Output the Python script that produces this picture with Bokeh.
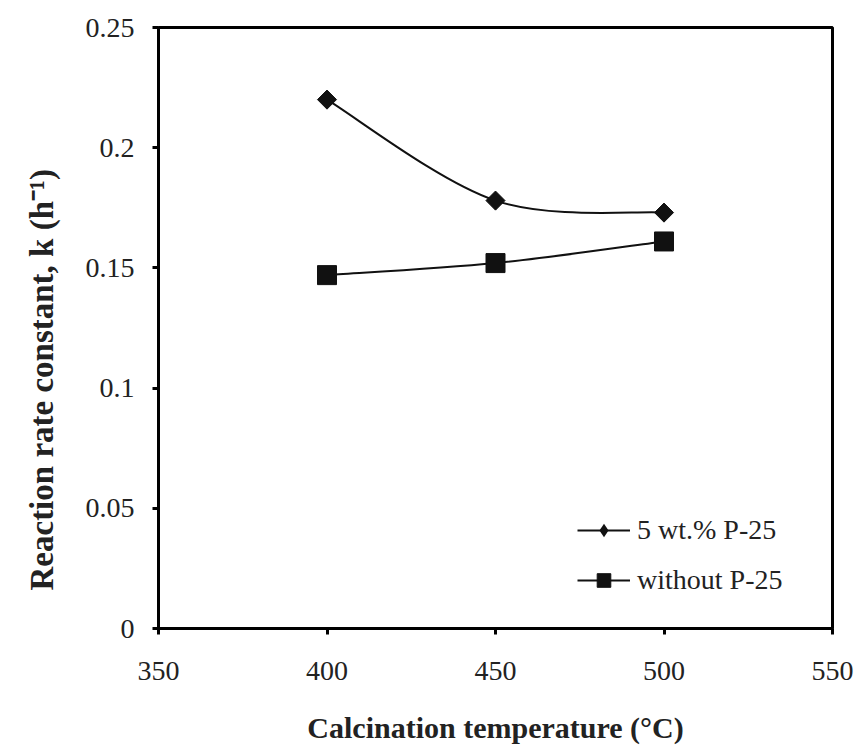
import math

from bokeh.plotting import figure
from bokeh.models import (Range1d, FixedTicker, CustomJSTickFormatter, Legend,
                          LegendItem, Title, ColumnDataSource)
from bokeh.embed import file_html
from bokeh.resources import INLINE

# Reaction rate constants vs calcination temperature
temps = [400, 450, 500]
k_with_p25 = [0.220, 0.178, 0.173]
k_without_p25 = [0.147, 0.152, 0.161]
series_names = ["5 wt.% P-25", "without P-25"]

x_ticks = [350, 400, 450, 500, 550]
y_ticks = [0, 0.05, 0.1, 0.15, 0.2, 0.25]
x_title = "Calcination temperature (°C)"
y_title = "Reaction rate constant, k (h\u207b\u00b9)"

FONT = "Liberation Serif"
INK = "#111111"
TEXT = "#222222"


def smooth_segments(xs, ys):
    """Cubic Bezier pieces (Catmull-Rom tangents) passing through every point."""
    n = len(xs)
    seg = dict(x0=[], y0=[], x1=[], y1=[], cx0=[], cy0=[], cx1=[], cy1=[])
    for i in range(n - 1):
        a = max(i - 1, 0)
        b = min(i + 2, n - 1)
        seg["x0"].append(xs[i])
        seg["y0"].append(ys[i])
        seg["x1"].append(xs[i + 1])
        seg["y1"].append(ys[i + 1])
        seg["cx0"].append(xs[i] + (xs[i + 1] - xs[a]) / 6)
        seg["cy0"].append(ys[i] + (ys[i + 1] - ys[a]) / 6)
        seg["cx1"].append(xs[i + 1] - (xs[b] - xs[i]) / 6)
        seg["cy1"].append(ys[i + 1] - (ys[b] - ys[i]) / 6)
    return ColumnDataSource(seg)


p = figure(width=858, height=746, output_backend="svg", toolbar_location=None,
           x_range=Range1d(350, 550), y_range=Range1d(0, 0.25),
           min_border_left=158, min_border_right=26,
           min_border_top=27, min_border_bottom=118)
p.background_fill_color = "white"
p.border_fill_color = "white"
p.grid.visible = False
p.outline_line_color = "black"
p.outline_line_width = 3

for ax in (p.xaxis[0], p.yaxis[0]):
    ax.axis_line_width = 3
    ax.axis_line_color = "black"
    ax.major_tick_line_width = 3
    ax.major_tick_out = 6
    ax.major_tick_in = 0
    ax.minor_tick_line_color = None
    ax.major_label_text_font = FONT
    ax.major_label_text_font_size = "28px"
    ax.major_label_text_color = TEXT

p.xaxis.ticker = FixedTicker(ticks=x_ticks)
p.yaxis.ticker = FixedTicker(ticks=y_ticks)
p.yaxis.formatter = CustomJSTickFormatter(code="return String(Math.round(tick * 100) / 100);")
p.xaxis.major_label_standoff = 27
p.xaxis.major_label_text_line_height = 1.0
p.yaxis.major_label_standoff = 18

p.xaxis.axis_label = x_title
p.xaxis.axis_label_text_font = FONT
p.xaxis.axis_label_text_font_size = "30px"
p.xaxis.axis_label_text_font_style = "bold"
p.xaxis.axis_label_text_color = TEXT
p.xaxis.axis_label_text_line_height = 0.8
p.xaxis.axis_label_standoff = 28

# vertical title, anchored from the bottom of the frame, pushed to the outer edge
p.add_layout(Title(text=y_title, align="left", offset=38, standoff=42,
                   vertical_align="top",
                   text_font=FONT, text_font_size="33px", text_font_style="bold",
                   text_color=TEXT), "left")

# series drawn as smoothed curves with markers
curve_a = p.bezier(x0="x0", y0="y0", x1="x1", y1="y1", cx0="cx0", cy0="cy0",
                   cx1="cx1", cy1="cy1", source=smooth_segments(temps, k_with_p25),
                   line_color=INK, line_width=2)
p.scatter(temps, k_with_p25, marker="square", size=13.5, angle=math.pi / 4,
          fill_color=INK, line_color=INK)
# zero-size diamonds: nothing on the plot, a diamond key in the legend
key_a = p.scatter(temps, k_with_p25, marker="diamond", size=0,
                  fill_color=INK, line_color=INK, line_width=0)

curve_b = p.bezier(x0="x0", y0="y0", x1="x1", y1="y1", cx0="cx0", cy0="cy0",
                   cx1="cx1", cy1="cy1", source=smooth_segments(temps, k_without_p25),
                   line_color=INK, line_width=2)
pts_b = p.scatter(temps, k_without_p25, marker="square", size=19,
                  fill_color=INK, line_color=INK)

legend = Legend(items=[LegendItem(label=series_names[0], renderers=[curve_a, key_a]),
                       LegendItem(label=series_names[1], renderers=[curve_b, pts_b])],
                location=(419, 31), padding=0, margin=0, spacing=16,
                glyph_width=53, glyph_height=34, label_height=34, label_standoff=7,
                label_text_font=FONT, label_text_font_size="28px",
                label_text_color=TEXT,
                border_line_color=None, background_fill_alpha=0)
p.add_layout(legend)

open("out.html", "w").write(file_html(p, INLINE))
